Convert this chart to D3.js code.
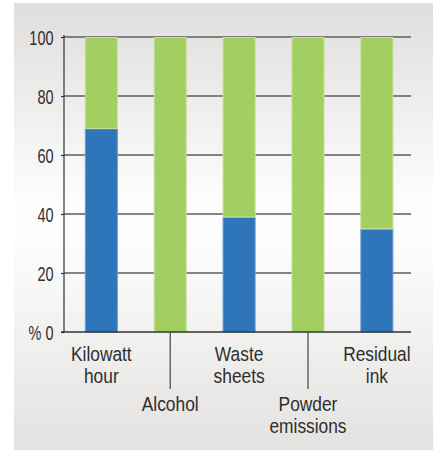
<!DOCTYPE html>
<html>
<head>
<meta charset="utf-8">
<script src="https://cdn.jsdelivr.net/npm/d3@7/dist/d3.min.js"></script>
<style>
  html, body { margin: 0; padding: 0; background: #ffffff; }
  svg { display: block; }
  text { font-family: "Liberation Sans", Arial, sans-serif; fill: #2e2e2e; }
</style>
</head>
<body>
<svg id="chart" width="433" height="450"></svg>
<script>
// Categories, each split into the lines it is printed on
const categories = ["Kilowatt hour", "Alcohol", "Waste sheets", "Powder emissions", "Residual ink"];
const categoryLines = [["Kilowatt", "hour"], ["Alcohol"], ["Waste", "sheets"], ["Powder", "emissions"], ["Residual", "ink"]];
// Labels in the lower row hang from a leader line
const lowerRow = [false, true, false, true, false];

// Share of each category, in percent
const blueShare = [69, 0, 39, 0, 35];
const greenShare = [31, 100, 61, 100, 65];

// Value axis
const yTicks = [0, 20, 40, 60, 80, 100];
const yTickLabels = ["% 0", "20", "40", "60", "80", "100"];

const BLUE = "#2e75b9", BLUE_EDGE = "#6a9fd4";
const GREEN = "#a3cf62", GREEN_EDGE = "#c4e29a";
const FONT_SIZE = 19.5;
const TICK_FONT_SIZE = 21;
const LINE_STEP = 22;
const LABEL_SQUEEZE = 0.89;   // condensed look for category labels
const TICK_SQUEEZE = 0.69;    // narrower figures on the value axis

const svg = d3.select("#chart");

// Panel background: grey at the top and bottom, near white through the middle
const defs = svg.append("defs");
const grad = defs.append("linearGradient")
  .attr("id", "panelFill").attr("x1", 0).attr("y1", 0).attr("x2", 0).attr("y2", 1);
[[0, "#dfdedc"], [0.45, "#fdfdfd"], [0.55, "#fcfcfc"], [1, "#e3e2e0"]].forEach(([o, c]) =>
  grad.append("stop").attr("offset", o).attr("stop-color", c));

svg.append("rect")
  .attr("x", 14).attr("y", 3).attr("width", 419).attr("height", 447)
  .attr("fill", "url(#panelFill)");

const plotLeft = 64, plotRight = 411;
const y = d3.scaleLinear().domain([0, 100]).range([332, 37]);
const x = d3.scaleBand()
  .domain(categories)
  .range([66.2, 412])
  .paddingInner(0.52)
  .paddingOuter(0.27);

// Horizontal gridlines, behind the bars
svg.append("g")
  .selectAll("line")
  .data(yTicks.filter(t => t > 0))
  .join("line")
  .attr("x1", plotLeft).attr("x2", plotRight)
  .attr("y1", d => y(d)).attr("y2", d => y(d))
  .attr("stroke", "#5c5c5c").attr("stroke-width", 1.5);

// Stacked bars
const rows = categories.map((c, i) => ({ cat: c, blue: blueShare[i], green: greenShare[i] }));
const stacked = d3.stack().keys(["blue", "green"])(rows);
const fills = { blue: [BLUE, BLUE_EDGE], green: [GREEN, GREEN_EDGE] };

svg.append("g")
  .selectAll("g")
  .data(stacked)
  .join("g")
  .each(function (layer) {
    const [fill, edge] = fills[layer.key];
    d3.select(this).selectAll("rect")
      .data(layer.filter(d => d[1] - d[0] > 0))
      .join("rect")
      .attr("x", d => x(d.data.cat) + 0.5)
      .attr("width", x.bandwidth() - 1)
      .attr("y", d => y(d[1]) + 0.5)
      .attr("height", d => y(d[0]) - y(d[1]) - 0.5)
      .attr("fill", fill)
      .attr("stroke", edge)
      .attr("stroke-width", 1);
  });

// Value axis
const yAxis = d3.axisLeft(y)
  .tickValues(yTicks)
  .tickSize(3)
  .tickPadding(7)
  .tickFormat((d, i) => yTickLabels[i]);

const yAxisG = svg.append("g")
  .attr("transform", `translate(${plotLeft},0)`)
  .call(yAxis);
yAxisG.select(".domain").remove();
yAxisG.selectAll(".tick line").attr("stroke", "#333").attr("stroke-width", 1.2);
yAxisG.selectAll(".tick text")
  .attr("x", 0)
  .attr("dy", "0.36em")
  .attr("transform", `translate(-10.5,0) scale(${TICK_SQUEEZE},1)`)
  .attr("font-size", TICK_FONT_SIZE)
  .attr("fill", "#2e2e2e")
  .attr("font-family", "'Liberation Sans', Arial, sans-serif");
yAxisG.append("line")
  .attr("x1", 0).attr("x2", 0)
  .attr("y1", y(100) - 2).attr("y2", y(0))
  .attr("stroke", "#333").attr("stroke-width", 1.2);

// Baseline
svg.append("line")
  .attr("x1", plotLeft - 3).attr("x2", plotRight)
  .attr("y1", y(0)).attr("y2", y(0))
  .attr("stroke", "#333").attr("stroke-width", 1.4);

// Category labels, upper and lower rows
const labelG = svg.append("g");
categories.forEach((c, i) => {
  const cx = x(c) + x.bandwidth() / 2;
  const lower = lowerRow[i];
  const firstBaseline = lower ? 411 : 361;
  if (lower) {
    labelG.append("line")
      .attr("x1", cx).attr("x2", cx)
      .attr("y1", y(0)).attr("y2", 389)
      .attr("stroke", "#444").attr("stroke-width", 1.2);
  }
  categoryLines[i].forEach((line, k) => {
    labelG.append("text")
      .attr("transform", `translate(${cx},${firstBaseline + k * LINE_STEP}) scale(${LABEL_SQUEEZE},1)`)
      .attr("text-anchor", "middle")
      .attr("font-size", FONT_SIZE)
      .text(line);
  });
});
</script>
</body>
</html>
